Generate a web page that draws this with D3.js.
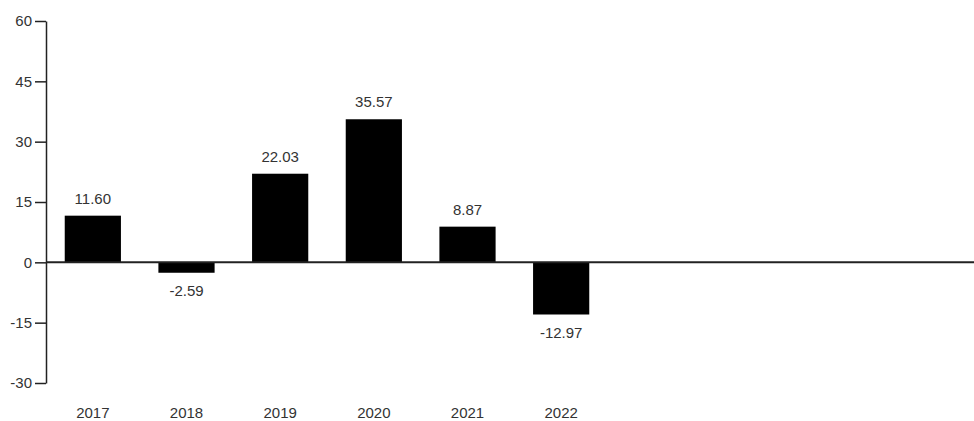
<!DOCTYPE html>
<html>
	<head>
		<meta charset="utf-8">
		<title>Bar chart</title>
		<style>
			body { margin: 0; background: #fff; overflow: hidden; }
			svg { display: block; }
			svg text { font-family: "Liberation Sans", Arial, Helvetica, sans-serif; font-size: 15px; fill: #333; }
			.axis path, .axis line { stroke: #222; stroke-width: 1.5px; }
			.axis text { font-size: 15px; fill: #333; }
		</style>
		<script src="https://d3js.org/d3.v7.min.js" charset="utf-8"></script>
	</head>
	<body>
		<svg id="myGraph" width="974" height="421"></svg>
		<script>
		// data
		var years = ["2017", "2018", "2019", "2020", "2021", "2022"];
		var values = [11.60, -2.59, 22.03, 35.57, 8.87, -12.97];
		var yTicks = [-30, -15, 0, 15, 30, 45, 60];

		var svg = d3.select("#myGraph");
		var width = 974;
		var left = 46;

		var x = d3.scaleBand()
			.domain(years)
			.range([left, 608])
			.paddingInner(0.4)
			.paddingOuter(0.2);

		var y = d3.scaleLinear()
			.domain([-30, 60])
			.range([383, 21]);

		// y axis (plain hyphen for negatives, like the original)
		svg.append("g")
			.attr("class", "axis")
			.attr("transform", "translate(" + left + ",0)")
			.call(d3.axisLeft(y)
				.tickValues(yTicks)
				.tickFormat(function(d){ return String(d); })
				.tickSize(11)
				.tickSizeOuter(0)
				.tickPadding(3));

		// bars
		svg.selectAll("rect.bar")
			.data(values)
			.enter()
			.append("rect")
			.attr("class", "bar")
			.attr("x", function(d, i){ return x(years[i]); })
			.attr("y", function(d){ return y(Math.max(0, d)); })
			.attr("width", x.bandwidth())
			.attr("height", function(d){ return Math.abs(y(d) - y(0)); })
			.attr("fill", "#000");

		// zero line
		svg.append("line")
			.attr("x1", left)
			.attr("x2", width)
			.attr("y1", y(0))
			.attr("y2", y(0))
			.attr("stroke", "#222")
			.attr("stroke-width", 2);

		// value labels
		svg.selectAll("text.val")
			.data(values)
			.enter()
			.append("text")
			.attr("class", "val")
			.attr("text-anchor", "middle")
			.attr("x", function(d, i){ return x(years[i]) + x.bandwidth() / 2; })
			.attr("y", function(d){ return d >= 0 ? y(d) - 12 : y(d) + 23; })
			.text(function(d){ return d.toFixed(2); });

		// year labels
		svg.selectAll("text.year")
			.data(years)
			.enter()
			.append("text")
			.attr("class", "year")
			.attr("text-anchor", "middle")
			.attr("x", function(d){ return x(d) + x.bandwidth() / 2; })
			.attr("y", 418)
			.text(function(d){ return d; });
		</script>
	</body>
</html>
